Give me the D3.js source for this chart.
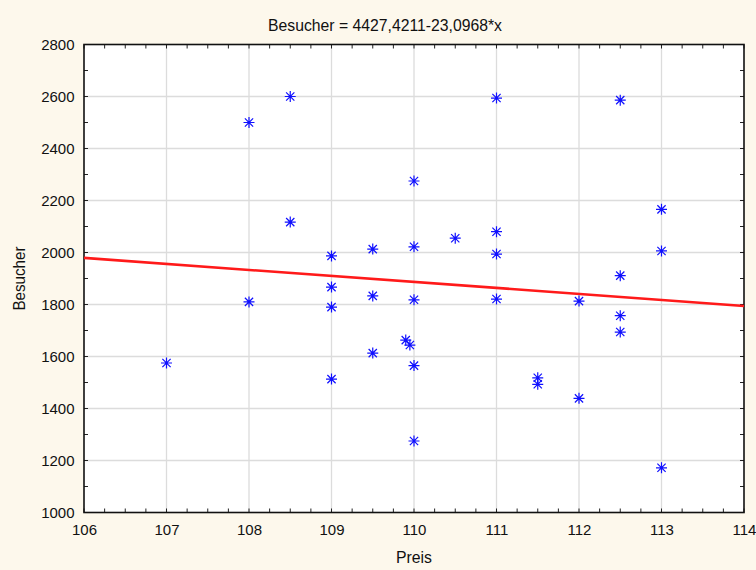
<!DOCTYPE html>
<html lang="de">
<head>
  <meta charset="UTF-8">
  <title>Besucher vs Preis</title>
  <script src="https://d3js.org/d3.v7.min.js"></script>
  <style>
    body { margin: 0; background: #fdf8ec; font-family: "Liberation Sans", Arial, sans-serif; }
    svg text { fill: #111; }
  </style>
</head>
<body>
  <div id="chart"></div>
  <script>
    // Daten: Preis (x) und Besucher (y)
    const preis = [107, 108, 108, 108.5, 108.5, 109, 109, 109, 109, 109.5, 109.5, 109.5,
                   109.9, 109.95, 110, 110, 110, 110, 110, 110.5, 111, 111, 111, 111,
                   111.5, 111.5, 112, 112, 112.5, 112.5, 112.5, 112.5, 113, 113, 113];
    const besucher = [1575, 2500, 1810, 2600, 2117, 1987, 1867, 1790, 1513, 2013, 1833, 1613,
                      1663, 1644, 1565, 1275, 2275, 2022, 1818, 2055, 2080, 1994, 1821, 2594,
                      1518, 1493, 1439, 1813, 2586, 1911, 1757, 1694, 2166, 2006, 1172];
    // Regression: Besucher = 4427,4211 - 23,0968*x
    const intercept = 4427.4211;
    const slope = -23.0968;
    const xTicks = [106, 107, 108, 109, 110, 111, 112, 113, 114];
    const yTicks = [1000, 1200, 1400, 1600, 1800, 2000, 2200, 2400, 2600, 2800];

    const width = 756, height = 570;
    const margin = { top: 44.5, right: 12, bottom: 57.5, left: 84 };

    const x = d3.scaleLinear().domain([106, 114]).range([margin.left, width - margin.right]);
    const y = d3.scaleLinear().domain([1000, 2800]).range([height - margin.bottom, margin.top]);

    const svg = d3.select("#chart").append("svg")
      .attr("width", width).attr("height", height);

    svg.append("rect").attr("width", width).attr("height", height).attr("fill", "#fdf8ec");

    // Plotfläche
    svg.append("rect")
      .attr("x", x(106)).attr("y", y(2800))
      .attr("width", x(114) - x(106)).attr("height", y(1000) - y(2800))
      .attr("fill", "#fff");

    // Gitterlinien
    const grid = svg.append("g").attr("stroke", "#dcdcdc").attr("stroke-width", 1.3);
    grid.selectAll(".gx").data(xTicks.slice(1, -1)).join("line")
      .attr("x1", d => x(d)).attr("x2", d => x(d))
      .attr("y1", y(2800)).attr("y2", y(1000));
    grid.selectAll(".gy").data(yTicks.slice(1, -1)).join("line")
      .attr("y1", d => y(d)).attr("y2", d => y(d))
      .attr("x1", x(106)).attr("x2", x(114));

    // Innere Teilstriche (alle Seiten)
    const minorX = d3.range(106, 114.001, 0.25);
    const minorY = d3.range(1000, 2800.001, 100);
    const tk = svg.append("g").attr("stroke", "#222").attr("stroke-width", 1);
    tk.selectAll(".tb").data(minorX).join("line")
      .attr("x1", d => x(d)).attr("x2", d => x(d))
      .attr("y1", y(1000)).attr("y2", y(1000) - 4);
    tk.selectAll(".tt").data(minorX).join("line")
      .attr("x1", d => x(d)).attr("x2", d => x(d))
      .attr("y1", y(2800)).attr("y2", y(2800) + 4);
    tk.selectAll(".tl").data(minorY).join("line")
      .attr("y1", d => y(d)).attr("y2", d => y(d))
      .attr("x1", x(106)).attr("x2", x(106) + 4);
    tk.selectAll(".tr").data(minorY).join("line")
      .attr("y1", d => y(d)).attr("y2", d => y(d))
      .attr("x1", x(114)).attr("x2", x(114) - 4);

    // Achsen
    svg.append("g")
      .attr("transform", `translate(0,${y(1000)})`)
      .call(d3.axisBottom(x).tickValues(xTicks).tickSize(0).tickPadding(12).tickFormat(d3.format("d")))
      .call(g => g.select(".domain").remove())
      .selectAll("text").style("font-size", "15px").style("font-family", "Liberation Sans, Arial");

    svg.append("g")
      .attr("transform", `translate(${x(106)},0)`)
      .call(d3.axisLeft(y).tickValues(yTicks).tickSize(0).tickPadding(9.5).tickFormat(d3.format("d")))
      .call(g => g.select(".domain").remove())
      .selectAll("text").style("font-size", "15px").style("font-family", "Liberation Sans, Arial");

    // Rahmen
    svg.append("rect")
      .attr("x", x(106)).attr("y", y(2800))
      .attr("width", x(114) - x(106)).attr("height", y(1000) - y(2800))
      .attr("fill", "none").attr("stroke", "#111").attr("stroke-width", 1.6);

    // Regressionsgerade
    svg.append("line")
      .attr("x1", x(106)).attr("y1", y(intercept + slope * 106))
      .attr("x2", x(114)).attr("y2", y(intercept + slope * 114))
      .attr("stroke", "#ff1a1a").attr("stroke-width", 2.6);

    // Punkte als Sternchen
    const r = 5.5, rd = r * 0.75;
    const star = `M0,${-r}V${r}M${-r},0H${r}M${-rd},${-rd}L${rd},${rd}M${-rd},${rd}L${rd},${-rd}`;
    svg.append("g").selectAll("path")
      .data(preis.map((p, i) => [p, besucher[i]]))
      .join("path")
      .attr("transform", d => `translate(${x(d[0])},${y(d[1])})`)
      .attr("d", star)
      .attr("stroke", "#1010ff").attr("stroke-width", 1.2).attr("fill", "none");

    // Titel
    svg.append("text")
      .attr("x", 385).attr("y", 30.5)
      .attr("text-anchor", "middle").style("font-size", "17px")
      .attr("textLength", 234).attr("lengthAdjust", "spacingAndGlyphs")
      .text("Besucher = 4427,4211-23,0968*x");

    svg.append("text")
      .attr("x", (x(106) + x(114)) / 2).attr("y", 563)
      .attr("text-anchor", "middle").style("font-size", "16.5px")
      .attr("textLength", 36).attr("lengthAdjust", "spacingAndGlyphs")
      .text("Preis");

    svg.append("text")
      .attr("transform", `translate(25,${(y(1000) + y(2800)) / 2}) rotate(-90)`)
      .attr("text-anchor", "middle").style("font-size", "16px")
      .attr("textLength", 64).attr("lengthAdjust", "spacingAndGlyphs")
      .text("Besucher");
  </script>
</body>
</html>
